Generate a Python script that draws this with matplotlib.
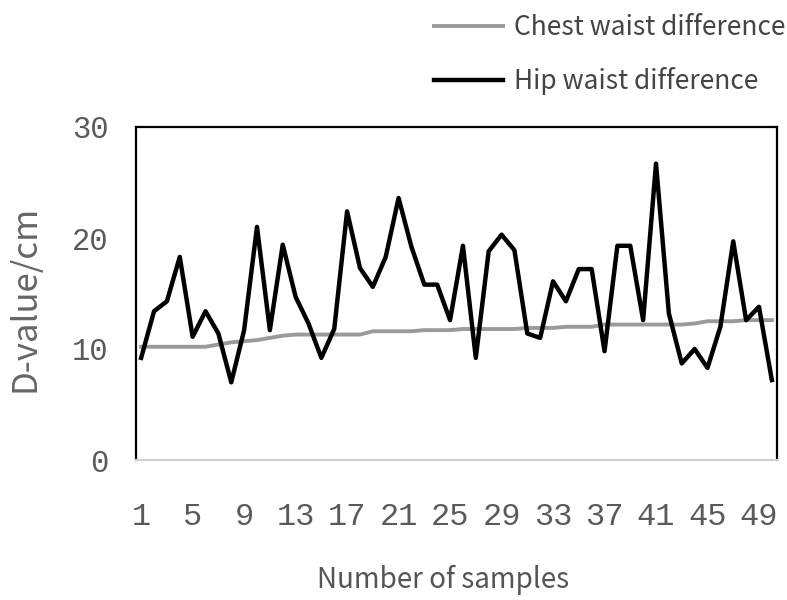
""" Chest / hip waist difference line chart """
import matplotlib
matplotlib.use("Agg")
import matplotlib.pyplot as plt

samples = list(range(1, 51))
chest_waist = [10.2, 10.2, 10.2, 10.2, 10.2, 10.2, 10.4, 10.6, 10.7, 10.8,
               11.0, 11.2, 11.3, 11.3, 11.3, 11.3, 11.3, 11.3, 11.6, 11.6,
               11.6, 11.6, 11.7, 11.7, 11.7, 11.8, 11.8, 11.8, 11.8, 11.8,
               11.9, 11.9, 11.9, 12.0, 12.0, 12.0, 12.2, 12.2, 12.2, 12.2,
               12.2, 12.2, 12.2, 12.3, 12.5, 12.5, 12.5, 12.6, 12.6, 12.6]
hip_waist = [9.2, 13.4, 14.3, 18.3, 11.1, 13.4, 11.4, 7.0, 11.7, 21.0,
             11.7, 19.4, 14.7, 12.3, 9.2, 11.8, 22.4, 17.3, 15.6, 18.3,
             23.6, 19.2, 15.8, 15.8, 12.6, 19.3, 9.2, 18.8, 20.3, 18.9,
             11.4, 11.0, 16.1, 14.3, 17.2, 17.2, 9.8, 19.3, 19.3, 12.6,
             26.7, 13.2, 8.7, 10.0, 8.3, 12.0, 19.7, 12.6, 13.8, 7.2]
xticks = list(range(1, 50, 4))
yticks = [0, 10, 20, 30]

label_font = ["Noto Sans CJK SC", "DejaVu Sans"]

fig = plt.figure(figsize=(7.87, 6.0), dpi=100)
ax = fig.add_axes([136 / 787, 140 / 600, 641 / 787, 333 / 600])

ax.plot(samples, chest_waist, color="#9a9a9a", lw=2.8, label="Chest waist difference")
ax.plot(samples, hip_waist, color="black", lw=3.2, label="Hip waist difference")

ax.set_xlim(0.6, 50.4)
ax.set_ylim(0, 30)
ax.set_xticks(xticks)
ax.set_yticks(yticks)
ax.tick_params(axis="both", length=0)
ax.tick_params(axis="x", pad=30)
ax.tick_params(axis="y", pad=20)
for lbl in ax.get_xticklabels() + ax.get_yticklabels():
    lbl.set_family("Liberation Mono")
    lbl.set_color("#5a5a5a")
for lbl in ax.get_xticklabels():
    lbl.set_fontsize(23)
for lbl in ax.get_yticklabels():
    lbl.set_fontsize(22)

for side in ["left", "top", "right"]:
    ax.spines[side].set_color("black")
    ax.spines[side].set_linewidth(1.6)
ax.spines["bottom"].set_color("#d0d0d0")
ax.spines["bottom"].set_linewidth(1.6)

fig.text(25 / 787, 1 - 298 / 600, "D-value/cm", rotation=90, ha="center", va="center",
         fontsize=25, color="#666666", family=label_font)
fig.text(443 / 787, 1 - 580 / 600, "Number of samples", ha="center", va="center",
         fontsize=20, color="#555555", family=label_font)

fig.legend(loc="upper right", bbox_to_anchor=(785 / 787, 1 - 14 / 600), frameon=False,
           prop={"family": label_font, "size": 19}, labelcolor="#444444",
           handlelength=2.6, handletextpad=0.4, labelspacing=1.0,
           borderaxespad=0.0, borderpad=0.0)

fig.savefig("out.png", dpi=100)
